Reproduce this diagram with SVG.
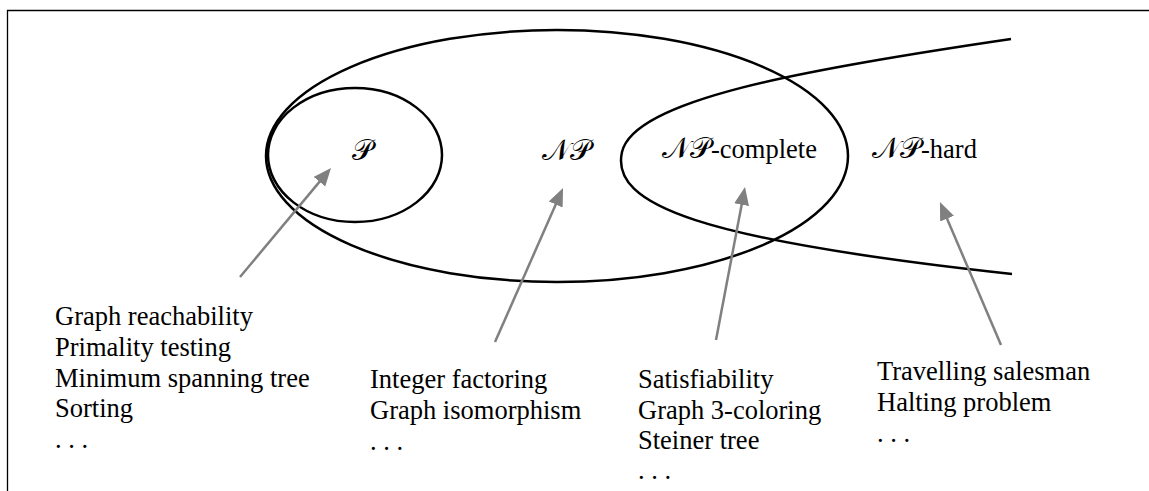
<svg xmlns="http://www.w3.org/2000/svg" width="1149" height="491" viewBox="0 0 1149 491">
<style>
.set{fill:none;stroke:#000;stroke-width:2.5}
.frame{fill:none;stroke:#000;stroke-width:1.3}
.arr{fill:none;stroke:#808080;stroke-width:2.5;marker-end:url(#ah)}
.t{font-family:"Liberation Serif","Times New Roman",serif;font-size:26.5px;fill:#000}
.cal{font-family:"DejaVu Serif","Noto Sans","Liberation Serif",serif;font-size:29px}
</style>
<defs>
<marker id="ah" markerUnits="userSpaceOnUse" markerWidth="20" markerHeight="16" refX="10" refY="7.5" orient="auto">
<path d="M0,0 L18,7.5 L0,15 z" fill="#808080"/>
</marker>
</defs>
<rect width="1149" height="491" fill="#fff"/>
<path class="frame" d="M7.5,491 L7.5,10.5 L1149,10.5"/>
<g id="np">
<ellipse class="set" cx="557" cy="156" rx="291" ry="126"/>
<text class="t" x="542" y="160"><tspan class="cal">𝒩𝒫</tspan></text>
</g>
<g id="p">
<ellipse class="set" cx="355" cy="155" rx="87" ry="67"/>
<text class="t" x="352" y="160"><tspan class="cal">𝒫</tspan></text>
</g>
<g id="np-hard">
<path class="set" d="M1011,39 C800,70 634,100 622,152 C610,205 700,240 1012,274"/>
<text class="t" x="872" y="158"><tspan class="cal">𝒩𝒫</tspan>-hard</text>
</g>
<g id="np-complete">
<text class="t" x="662" y="158"><tspan class="cal">𝒩𝒫</tspan>-complete</text>
</g>
<g id="connectors">
<line class="arr" x1="240" y1="277" x2="325.9" y2="174.1"/>
<line class="arr" x1="495" y1="342" x2="559.8" y2="195.3"/>
<line class="arr" x1="716" y1="340" x2="743.5" y2="194.9"/>
<line class="arr" x1="1001" y1="345" x2="943.1" y2="209.4"/>
</g>
<g id="list-p" class="t">
<text x="55" y="325">Graph reachability</text>
<text x="55" y="356">Primality testing</text>
<text x="55" y="387">Minimum spanning tree</text>
<text x="55" y="417">Sorting</text>
<text x="55" y="448">. . .</text>
</g>
<g id="list-np" class="t">
<text x="370" y="388">Integer factoring</text>
<text x="370" y="419">Graph isomorphism</text>
<text x="370" y="450">. . .</text>
</g>
<g id="list-npc" class="t">
<text x="638" y="388">Satisfiability</text>
<text x="638" y="419">Graph 3-coloring</text>
<text x="638" y="449">Steiner tree</text>
<text x="638" y="479">. . .</text>
</g>
<g id="list-nph" class="t">
<text x="877" y="380">Travelling salesman</text>
<text x="877" y="411">Halting problem</text>
<text x="877" y="442">. . .</text>
</g>
</svg>
